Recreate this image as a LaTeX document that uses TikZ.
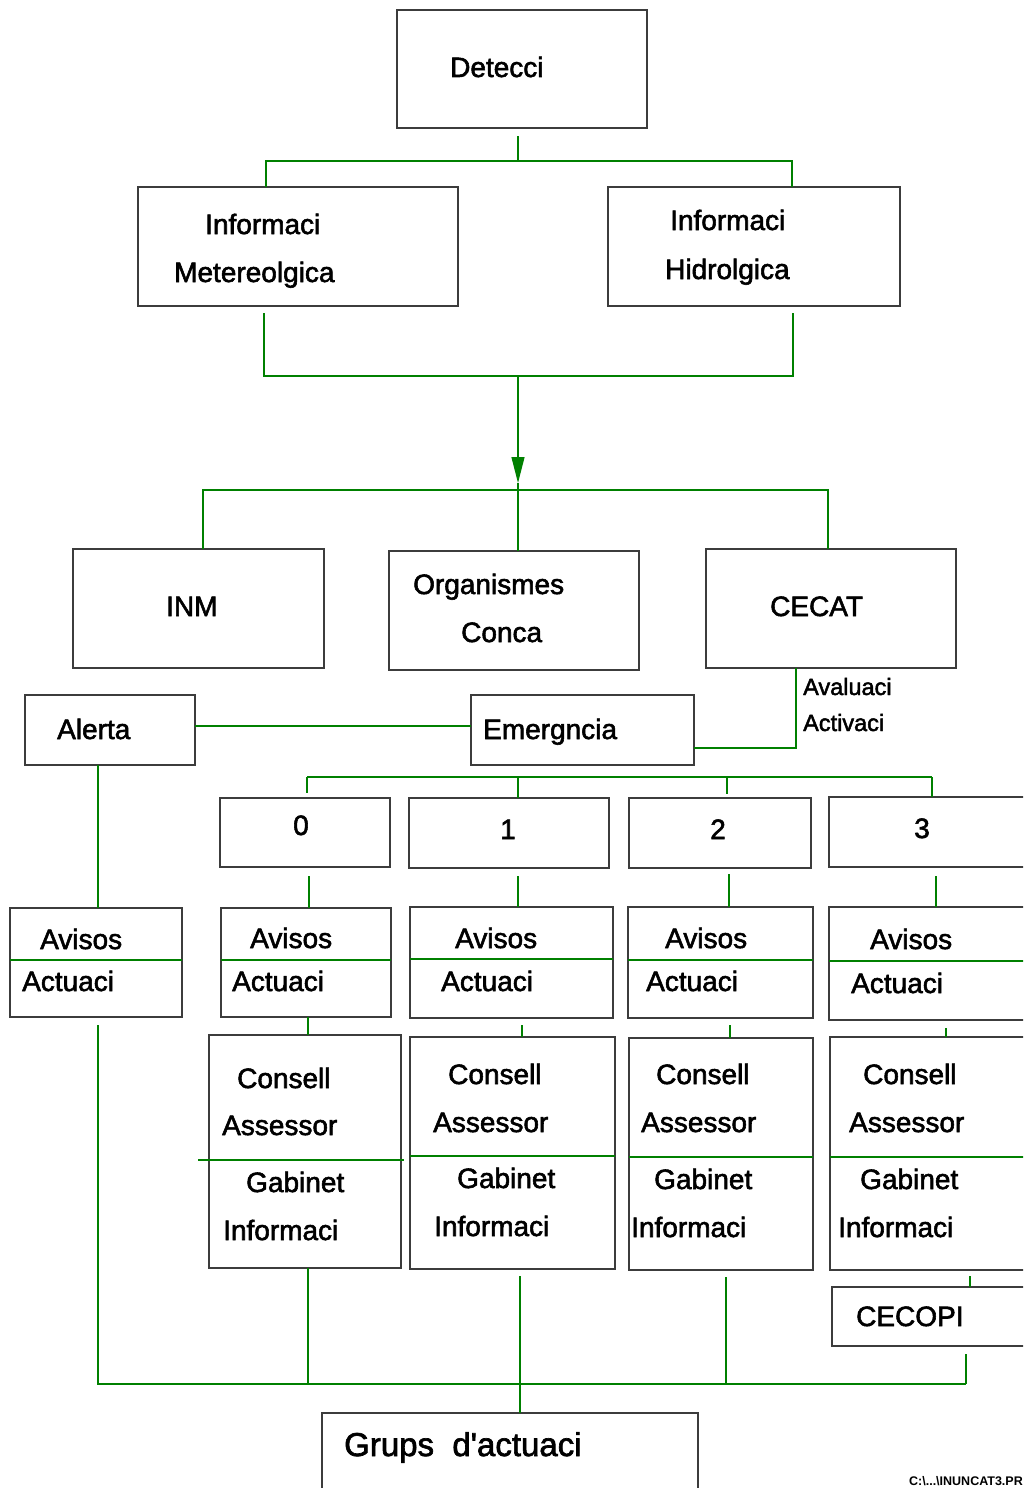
\documentclass[tikz,border=0pt]{standalone}
\usepackage{fontspec}
\setmainfont{Liberation Sans}
\newfontfamily\heavyfont{Liberation Sans}[FakeBold=2]
\usetikzlibrary{arrows.meta}
\definecolor{linkgreen}{RGB}{0,128,0}
\definecolor{boxgray}{RGB}{60,60,60}
\newcommand{\boxfont}{\heavyfont\fontsize{28}{34}\selectfont}
\newcommand{\notefont}{\heavyfont\fontsize{23.5}{28}\selectfont}
\newcommand{\grupsfont}{\heavyfont\fontsize{33}{39}\selectfont}
\newcommand{\pathfont}{\fontsize{12.5}{15}\selectfont\bfseries}

\begin{document}
\begin{tikzpicture}[
    x=1pt, y=-1pt,
    box/.style={rectangle, draw=boxgray, line width=1.3pt, inner sep=0pt, outer sep=0pt},
    txt/.style={anchor=base west, inner sep=0pt, font=\boxfont},
    num/.style={txt, anchor=base},
    note/.style={txt, font=\notefont},
    link/.style={draw=linkgreen, line width=1.2pt},
    arrow/.style={link, -{Triangle[length=26pt, width=13pt]}}
]
\useasboundingbox (0,0) rectangle (1023,1488);
\clip (0,0) rectangle (1023,1488);

% Detection
\node[box, minimum width=250pt, minimum height=118pt] (detecci) at (522,69) {};
\node[txt] (detecci-t) at (450,77) {Detecci};

% Information sources
\node[box, minimum width=320pt, minimum height=119pt] (meteo) at (298,246.5) {};
\node[txt] (meteo-t1) at (205,234) {Informaci};
\node[txt] (meteo-t2) at (174,282) {Metereolgica};
\node[box, minimum width=292pt, minimum height=119pt] (hidro) at (754,246.5) {};
\node[txt] (hidro-t1) at (670,230) {Informaci};
\node[txt] (hidro-t2) at (665,279) {Hidrolgica};

% Receivers
\node[box, minimum width=251pt, minimum height=119pt] (inm) at (198.5,608.5) {};
\node[txt] (inm-t) at (166,616) {INM};
\node[box, minimum width=250pt, minimum height=119pt] (conca) at (514,610.5) {};
\node[txt] (conca-t1) at (413,594) {Organismes};
\node[txt] (conca-t2) at (461,642) {Conca};
\node[box, minimum width=250pt, minimum height=119pt] (cecat) at (831,608.5) {};
\node[txt] (cecat-t) at (770,616) {CECAT};
\node[note] (aval-t) at (803,695) {Avaluaci};
\node[note] (activ-t) at (803,731) {Activaci};

% Alert and emergency
\node[box, minimum width=170pt, minimum height=70pt] (alerta) at (110,730) {};
\node[txt] (alerta-t) at (57,739) {Alerta};
\node[box, minimum width=223pt, minimum height=70pt] (emerg) at (582.5,730) {};
\node[txt] (emerg-t) at (483,739) {Emergncia};

% Emergency levels
\node[box, minimum width=170pt, minimum height=69pt] (n0) at (305,832.5) {};
\node[num] (n0-t) at (301,835) {0};
\node[box, minimum width=200pt, minimum height=70pt] (n1) at (509,833) {};
\node[num] (n1-t) at (508,839) {1};
\node[box, minimum width=182pt, minimum height=70pt] (n2) at (720,833) {};
\node[num] (n2-t) at (718,839) {2};
\node[box, minimum width=201pt, minimum height=70pt] (n3) at (929.5,832) {};
\node[num] (n3-t) at (922,838) {3};

% Warnings
\node[box, minimum width=172pt, minimum height=109pt] (avL) at (96,962.5) {};
\node[txt] (avL-t1) at (40,949) {Avisos};
\node[txt] (avL-t2) at (22,991) {Actuaci};
\node[box, minimum width=170pt, minimum height=109pt] (av0) at (306,962.5) {};
\node[txt] (av0-t1) at (250,948) {Avisos};
\node[txt] (av0-t2) at (232,991) {Actuaci};
\node[box, minimum width=203pt, minimum height=111pt] (av1) at (511.5,962.5) {};
\node[txt] (av1-t1) at (455,948) {Avisos};
\node[txt] (av1-t2) at (441,991) {Actuaci};
\node[box, minimum width=185pt, minimum height=111pt] (av2) at (720.5,962.5) {};
\node[txt] (av2-t1) at (665,948) {Avisos};
\node[txt] (av2-t2) at (646,991) {Actuaci};
\node[box, minimum width=201pt, minimum height=113pt] (av3) at (929.5,963.5) {};
\node[txt] (av3-t1) at (870,949) {Avisos};
\node[txt] (av3-t2) at (851,993) {Actuaci};

% Councils
\node[box, minimum width=192pt, minimum height=233pt] (cs0) at (305,1151.5) {};
\node[txt] (cs0-t1) at (237,1088) {Consell};
\node[txt] (cs0-t2) at (222,1135) {Assessor};
\node[txt] (cs0-t3) at (246,1192) {Gabinet};
\node[txt] (cs0-t4) at (223,1240) {Informaci};
\node[box, minimum width=205pt, minimum height=232pt] (cs1) at (512.5,1153) {};
\node[txt] (cs1-t1) at (448,1084) {Consell};
\node[txt] (cs1-t2) at (433,1132) {Assessor};
\node[txt] (cs1-t3) at (457,1188) {Gabinet};
\node[txt] (cs1-t4) at (434,1236) {Informaci};
\node[box, minimum width=184pt, minimum height=232pt] (cs2) at (721,1154) {};
\node[txt] (cs2-t1) at (656,1084) {Consell};
\node[txt] (cs2-t2) at (641,1132) {Assessor};
\node[txt] (cs2-t3) at (654,1189) {Gabinet};
\node[txt] (cs2-t4) at (631,1237) {Informaci};
\node[box, minimum width=200pt, minimum height=233pt] (cs3) at (930,1153.5) {};
\node[txt] (cs3-t1) at (863,1084) {Consell};
\node[txt] (cs3-t2) at (849,1132) {Assessor};
\node[txt] (cs3-t3) at (860,1189) {Gabinet};
\node[txt] (cs3-t4) at (838,1237) {Informaci};

% Civil protection and action groups
\node[box, minimum width=198pt, minimum height=59pt] (cecopi) at (931,1316.5) {};
\node[txt] (cecopi-t) at (856,1326) {CECOPI};
\node[box, minimum width=376pt, minimum height=82pt] (grups) at (510,1454) {};
\node[txt, font=\grupsfont] (grups-t) at (344,1456) {Grups\ \ d\textquotesingle actuaci};
\node[anchor=base east, inner sep=0pt, font=\pathfont] (path-t) at (1023,1485) {C:\textbackslash...\textbackslash INUNCAT3.PR};

% Box dividers
\draw[link] (avL.west |- 0,960) -- (avL.east |- 0,960);
\draw[link] (av0.west |- 0,960) -- (av0.east |- 0,960);
\draw[link] (av1.west |- 0,959) -- (av1.east |- 0,959);
\draw[link] (av2.west |- 0,960) -- (av2.east |- 0,960);
\draw[link] (av3.west |- 0,961) -- (av3.east |- 0,961);
\draw[link] (cs0.west |- 0,1160) ++(-11,0) -- (cs0.east |- 0,1160) -- ++(3,0);
\draw[link] (cs1.west |- 0,1156) -- (cs1.east |- 0,1156);
\draw[link] (cs2.west |- 0,1157) -- (cs2.east |- 0,1157);
\draw[link] (cs3.west |- 0,1157) -- (cs3.east |- 0,1157);

% Detection to information
\coordinate (det-bus) at (518,161);
\draw[link] (detecci.south -| det-bus) ++(0,8) -- (det-bus);
\draw[link] (meteo.north -| 266,0) |- (det-bus);
\draw[link] (hidro.north -| 792,0) |- (det-bus);

% Information to receivers
\coordinate (merge) at (518,376);
\coordinate (tip) at (518,483);
\coordinate (rcv-bus) at (518,490);
\draw[link] (meteo.south -| 264,0) ++(0,7) |- (merge);
\draw[link] (hidro.south -| 793,0) ++(0,7) |- (merge);
\draw[arrow] (merge) -- (tip);
\draw[link] (tip) -- (rcv-bus);
\draw[link] (inm.north -| 203,0) |- (rcv-bus);
\draw[link] (conca.north -| rcv-bus) -- (rcv-bus);
\draw[link] (cecat.north -| 828,0) |- (rcv-bus);

% Evaluation and activation
\draw[link] (cecat.south -| 796,0) |- (emerg.east |- 0,748);
\draw[link] (alerta.east |- 0,726) -- (emerg.west |- 0,726);
\draw[link] (alerta.south -| 98,0) -- (avL.north -| 98,0);

% Levels
\coordinate (lvl-w) at (307,777);
\coordinate (lvl-e) at (932,777);
\draw[link] (lvl-w) -- (lvl-e);
\draw[link] (lvl-w) -- ++(0,16);
\draw[link] (lvl-w -| 518,0) -- (n1.north -| 518,0);
\draw[link] (lvl-w -| 727,0) -- ++(0,17);
\draw[link] (lvl-e) -- (n3.north -| lvl-e);

% Levels to warnings
\draw[link] (n0.south -| 309,0) ++(0,9) -- (av0.north -| 309,0);
\draw[link] (n1.south -| 518,0) ++(0,8) -- (av1.north -| 518,0);
\draw[link] (n2.south -| 729,0) ++(0,6) -- (av2.north -| 729,0);
\draw[link] (n3.south -| 936,0) ++(0,9) -- (av3.north -| 936,0);

% Warnings to councils
\draw[link] (av0.south -| 308,0) -- (cs0.north -| 308,0);
\draw[link] (av1.south -| 522,0) ++(0,7) -- (cs1.north -| 522,0);
\draw[link] (av2.south -| 730,0) ++(0,7) -- (cs2.north -| 730,0);
\draw[link] (av3.south -| 946,0) ++(0,8) -- (cs3.north -| 946,0);
\draw[link] (cs3.south -| 970,0) ++(0,6) -- (cecopi.north -| 970,0);

% Action groups
\coordinate (bot-w) at (98,1384);
\coordinate (bot-e) at (966,1384);
\draw[link] (avL.south -| bot-w) ++(0,8) -- (bot-w) -- (bot-e);
\draw[link] (cecopi.south -| bot-e) ++(0,8) -- (bot-e);
\draw[link] (cs0.south -| 308,0) -- (bot-w -| 308,0);
\draw[link] (cs1.south -| 520,0) ++(0,7) -- (grups.north -| 520,0);
\draw[link] (cs2.south -| 726,0) ++(0,7) -- (bot-w -| 726,0);

\end{tikzpicture}
\end{document}
